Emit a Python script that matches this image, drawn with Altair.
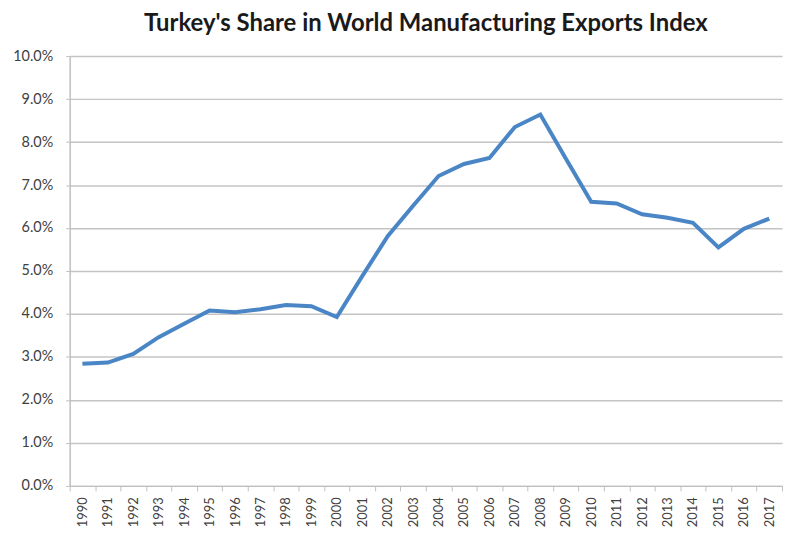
import altair as alt
import pandas as pd

years = [str(y) for y in range(1990, 2018)]
share = [0.0284, 0.0287, 0.0307, 0.0346, 0.0377, 0.0408, 0.0404, 0.0411, 0.0421, 0.0418,
         0.0393, 0.0488, 0.0581, 0.0652, 0.0721, 0.0749, 0.0763, 0.0835, 0.0864, 0.0762,
         0.0661, 0.0657, 0.0632, 0.0624, 0.0612, 0.0555, 0.0598, 0.0622]

df = pd.DataFrame({"Year": years, "Share": share})

FONT = "Lato"

chart = alt.Chart(df).mark_line(color="#4a86c6", strokeWidth=4, strokeJoin="miter").encode(
    x=alt.X("Year:O", bandPosition=0.5,
            scale=alt.Scale(type="band", paddingInner=0, paddingOuter=0),
            axis=alt.Axis(title=None, labelAngle=270, labelAlign="right", labelBaseline="middle",
                          tickBand="extent", grid=False, domainColor="#bfbfbf", domainWidth=1.5,
                          tickColor="#bfbfbf", tickSize=5, labelPadding=6,
                          labelFont=FONT, labelFontSize=13, labelColor="#404040")),
    y=alt.Y("Share:Q", scale=alt.Scale(domain=[0, 0.1]),
            axis=alt.Axis(title=None, format=".1%", values=[i / 100 for i in range(11)],
                          gridColor="#c4c4c4", gridWidth=1.5, domainColor="#bfbfbf", domainWidth=1.5,
                          tickColor="#bfbfbf", tickSize=4, labelPadding=13,
                          labelFont=FONT, labelFontSize=14.5, labelColor="#404040")),
).properties(
    width=716,
    height=432,
    title=alt.TitleParams("Turkey's Share in World Manufacturing Exports Index",
                          font=FONT, fontSize=24, fontWeight="bold", color="#1a1a1a",
                          anchor="middle", frame="group", offset=12),
    padding={"left": 4, "top": 3, "right": 0, "bottom": 0},
).configure_view(stroke=None)

chart.save("out.html", embed_options={"renderer": "svg", "actions": False})
